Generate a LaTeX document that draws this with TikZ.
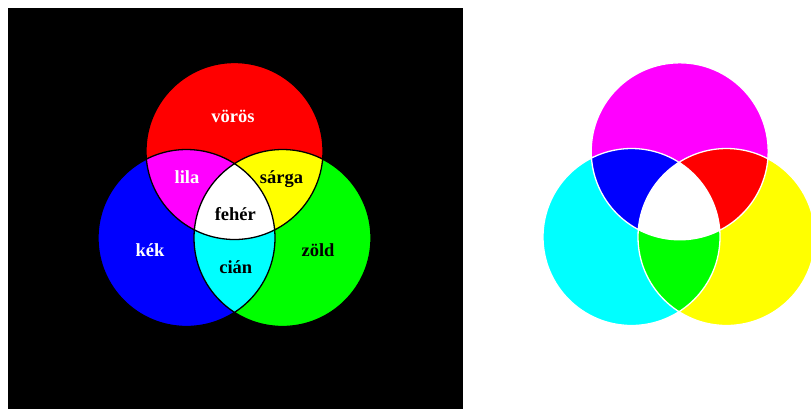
\documentclass[tikz,border=0pt]{standalone}
\usepackage{fontspec}
\setmainfont{Liberation Serif}
\definecolor{pred}{RGB}{255,0,0}
\definecolor{pgreen}{RGB}{0,255,0}
\definecolor{pblue}{RGB}{0,0,255}
\definecolor{pcyan}{RGB}{0,255,255}
\definecolor{pmag}{RGB}{255,0,255}
\definecolor{pyel}{RGB}{255,255,0}
\tikzset{
  lbl/.style={font=\fontsize{18.5bp}{20bp}\selectfont\bfseries, anchor=base, inner sep=0pt},
  wlbl/.style={lbl, text=white},
  klbl/.style={lbl, text=black},
}
\begin{document}
\begin{tikzpicture}[x=1bp,y=-1bp]
\useasboundingbox (0,0) rectangle (811,409);
\fill[white] (0,0) rectangle (811,409);
% ---------- left panel (additive) ----------
\fill[black] (8,8) rectangle (463,409);
\def\R{88.5}
\coordinate (cR) at (234.5,151);
\coordinate (cB) at (186.5,238);
\coordinate (cG) at (282.5,238);
\fill[pred] (cR) circle[radius=\R];
\fill[pblue] (cB) circle[radius=\R];
\fill[pgreen] (cG) circle[radius=\R];
\begin{scope}
  \clip (cR) circle[radius=\R];
  \fill[pmag] (cB) circle[radius=\R];
  \fill[pyel] (cG) circle[radius=\R];
\end{scope}
\begin{scope}
  \clip (cB) circle[radius=\R];
  \fill[pcyan] (cG) circle[radius=\R];
\end{scope}
\begin{scope}
  \clip (cR) circle[radius=\R];
  \clip (cB) circle[radius=\R];
  \fill[white] (cG) circle[radius=\R];
\end{scope}
\draw[black, line width=1.3bp] (cR) circle[radius=\R] (cB) circle[radius=\R] (cG) circle[radius=\R];
\node[wlbl] (voros) at (233,122.5) {vörös};
\node[wlbl] (lila) at (187,183.3) {lila};
\node[klbl] (sarga) at (281.5,183.3) {sárga};
\node[klbl] (feher) at (235.3,220) {fehér};
\node[wlbl] (kek) at (150,256.7) {kék};
\node[klbl] (zold) at (318,256.7) {zöld};
\node[klbl] (cian) at (235.8,273.3) {cián};
% ---------- right panel (subtractive) ----------
\begin{scope}
\clip (463,0) rectangle (811,409);
\coordinate (cM) at (679.7,151.3);
\coordinate (cC) at (631.5,237);
\coordinate (cY) at (726.5,237);
\def\S{88.5}
\fill[pmag] (cM) circle[radius=\S];
\fill[pcyan] (cC) circle[radius=\S];
\fill[pyel] (cY) circle[radius=\S];
\begin{scope}
  \clip (cM) circle[radius=\S];
  \fill[pblue] (cC) circle[radius=\S];
  \fill[pred] (cY) circle[radius=\S];
\end{scope}
\begin{scope}
  \clip (cC) circle[radius=\S];
  \fill[pgreen] (cY) circle[radius=\S];
\end{scope}
\begin{scope}
  \clip (cM) circle[radius=\S];
  \clip (cC) circle[radius=\S];
  \fill[white] (cY) circle[radius=\S];
\end{scope}
\draw[white, line width=1.3bp] (cM) circle[radius=\S] (cC) circle[radius=\S] (cY) circle[radius=\S];
\end{scope}
\end{tikzpicture}
\end{document}
